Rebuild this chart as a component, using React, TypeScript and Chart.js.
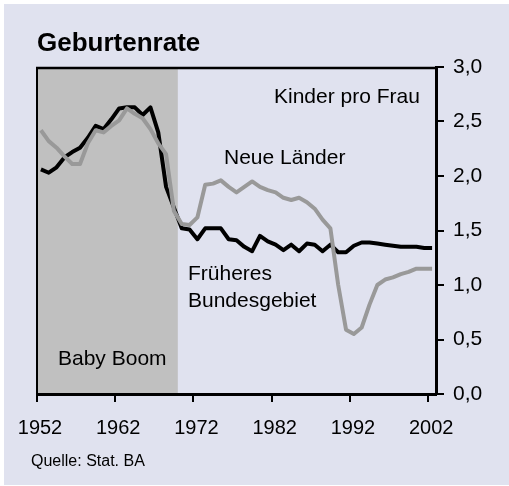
import React, { useEffect, useRef } from "react";
import { Chart, registerables } from "chart.js";

Chart.register(...registerables);

const years = [
  1952, 1953, 1954, 1955, 1956, 1957, 1958, 1959, 1960, 1961,
  1962, 1963, 1964, 1965, 1966, 1967, 1968, 1969, 1970, 1971,
  1972, 1973, 1974, 1975, 1976, 1977, 1978, 1979, 1980, 1981,
  1982, 1983, 1984, 1985, 1986, 1987, 1988, 1989, 1990, 1991,
  1992, 1993, 1994, 1995, 1996, 1997, 1998, 1999, 2000, 2001,
  2002,
];

const frueheresBundesgebiet = [
  2.06, 2.03, 2.08, 2.17, 2.22, 2.26, 2.35, 2.46, 2.43, 2.52,
  2.62, 2.63, 2.63, 2.56, 2.63, 2.4, 1.9, 1.71, 1.52, 1.51,
  1.42, 1.52, 1.52, 1.52, 1.42, 1.41, 1.35, 1.31, 1.45, 1.4,
  1.37, 1.32, 1.37, 1.31, 1.38, 1.37, 1.31, 1.37, 1.3, 1.3,
  1.36, 1.39, 1.39, 1.38, 1.37, 1.36, 1.35, 1.35, 1.35, 1.34,
  1.34,
];

const neueLaender = [
  2.42, 2.32, 2.26, 2.18, 2.11, 2.11, 2.3, 2.42, 2.4, 2.46,
  2.51, 2.62, 2.57, 2.53, 2.43, 2.3, 2.2, 1.68, 1.56, 1.55,
  1.62, 1.92, 1.93, 1.96, 1.9, 1.85, 1.9, 1.95, 1.9, 1.87,
  1.85, 1.8, 1.78, 1.8, 1.76, 1.7, 1.6, 1.52, 1.0, 0.59,
  0.55, 0.61, 0.82, 1.0, 1.05, 1.07, 1.1, 1.12, 1.15, 1.15,
  1.15,
];

const xTickYears = [1952, 1962, 1972, 1982, 1992, 2002];
const yTickValues = [0, 0.5, 1, 1.5, 2, 2.5, 3];
const babyBoomStart = 1952;
const babyBoomEnd = 1970;

const FONT = "'Liberation Sans', Arial, Helvetica, sans-serif";

export default function App() {
  const canvasRef = useRef<HTMLCanvasElement>(null);

  useEffect(() => {
    const canvas = canvasRef.current;
    if (!canvas) return;

    const decor = {
      id: "decor",
      beforeDraw(chart: any) {
        const ctx = chart.ctx;
        const { top, bottom } = chart.chartArea;
        const xs = chart.scales.x;
        ctx.save();
        ctx.fillStyle = "#ffffff";
        ctx.fillRect(0, 0, chart.width, chart.height);
        ctx.fillStyle = "#e0e2ef";
        ctx.fillRect(4, 4, chart.width - 4, chart.height - 5);
        const x0 = xs.getPixelForValue(babyBoomStart);
        const x1 = xs.getPixelForValue(babyBoomEnd);
        ctx.fillStyle = "#c0c0c0";
        ctx.fillRect(x0, top, x1 - x0, bottom - top);
        ctx.restore();
      },
      afterDraw(chart: any) {
        const ctx = chart.ctx;
        const { left, right, top, bottom } = chart.chartArea;
        ctx.save();
        ctx.strokeStyle = "#000";
        ctx.lineWidth = 2.5;
        ctx.beginPath();
        ctx.moveTo(left - 1, top + 1);
        ctx.lineTo(right, top + 1);
        ctx.stroke();
        ctx.lineWidth = 2;
        ctx.beginPath();
        ctx.moveTo(left, top);
        ctx.lineTo(left, bottom);
        ctx.stroke();

        ctx.fillStyle = "#000";
        ctx.textBaseline = "alphabetic";
        ctx.textAlign = "left";
        ctx.font = `bold 26px ${FONT}`;
        ctx.fillText("Geburtenrate", 37, 51);
        ctx.font = `21px ${FONT}`;
        ctx.fillText("Kinder pro Frau", 274, 103);
        ctx.fillText("Neue Länder", 224, 164);
        ctx.fillText("Früheres", 188, 280);
        ctx.fillText("Bundesgebiet", 188, 307);
        ctx.fillText("Baby Boom", 58, 365);
        ctx.font = `16px ${FONT}`;
        ctx.fillText("Quelle: Stat. BA", 31, 466);
        ctx.restore();
      },
    };

    const axisGrid = {
      display: true,
      drawOnChartArea: false,
      drawTicks: true,
      tickLength: 8,
      color: "#000",
      lineWidth: 2,
    };
    const axisBorder = { display: true, color: "#000", width: 3 };

    const chart = new Chart(canvas, {
      type: "line",
      data: {
        datasets: [
          {
            label: "Neue Länder",
            data: years.map((yr, i) => ({ x: yr + 0.5, y: neueLaender[i] })),
            borderColor: "#999999",
            borderWidth: 4,
            pointRadius: 0,
            tension: 0,
            borderJoinStyle: "round",
            fill: false,
          },
          {
            label: "Früheres Bundesgebiet",
            data: years.map((yr, i) => ({ x: yr + 0.5, y: frueheresBundesgebiet[i] })),
            borderColor: "#000000",
            borderWidth: 4,
            pointRadius: 0,
            tension: 0,
            borderJoinStyle: "round",
            fill: false,
          },
        ],
      },
      options: {
        responsive: false,
        animation: false,
        layout: { padding: { left: 37, top: 67, right: 0, bottom: 0 } },
        plugins: {
          legend: { display: false },
          tooltip: { enabled: false },
          title: { display: false },
        },
        scales: {
          x: {
            type: "linear",
            position: "bottom",
            min: 1952,
            max: 2003,
            afterBuildTicks: (s: any) => {
              s.ticks = xTickYears.map((v) => ({ value: v }));
            },
            afterFit: (s: any) => {
              s.height = 92;
            },
            grid: axisGrid,
            border: axisBorder,
            ticks: {
              color: "#000",
              font: { family: FONT, size: 20 },
              padding: 14,
              labelOffset: 3,
              maxRotation: 0,
              autoSkip: false,
              callback: (v: any) => String(v),
            },
          },
          y: {
            type: "linear",
            position: "right",
            min: 0,
            max: 3,
            afterBuildTicks: (s: any) => {
              s.ticks = yTickValues.map((v) => ({ value: v }));
            },
            afterFit: (s: any) => {
              s.width = 73;
            },
            grid: axisGrid,
            border: axisBorder,
            ticks: {
              color: "#000",
              font: { family: FONT, size: 21 },
              padding: 9,
              callback: (v: any) => Number(v).toFixed(1).replace(".", ","),
            },
          },
        },
      },
      plugins: [decor],
    } as any);

    return () => chart.destroy();
  }, []);

  return (
    <div style={{ position: "absolute", left: 0, top: 0, width: 509, height: 486 }}>
      <canvas ref={canvasRef} width={509} height={486} style={{ display: "block" }} />
    </div>
  );
}
